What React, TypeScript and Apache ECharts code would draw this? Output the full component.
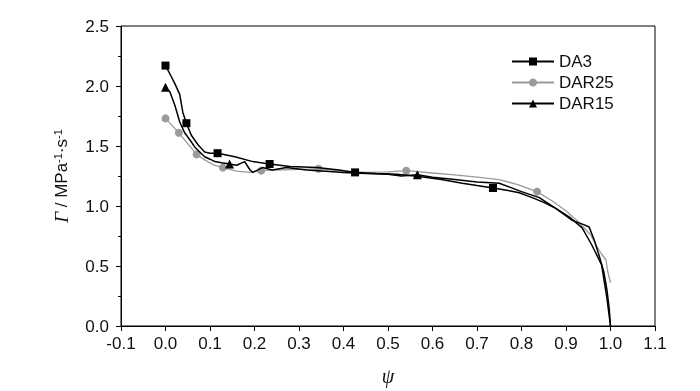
import React, { useEffect, useRef } from "react";
import * as echarts from "echarts";

const xTicks = { min: -0.1, max: 1.1, interval: 0.1 };
const yTicks = { min: 0, max: 2.5, interval: 0.5 };

const seriesNames = ["DA3", "DAR25", "DAR15"];

const da3X = [0.0, 0.01, 0.021, 0.032, 0.039, 0.047, 0.058, 0.073, 0.088, 0.1, 0.117, 0.156, 0.196, 0.234, 0.28, 0.34, 0.39, 0.426, 0.474, 0.52, 0.57, 0.62, 0.667, 0.7, 0.736, 0.77, 0.795, 0.824, 0.85, 0.877, 0.914, 0.94, 0.952, 0.963, 0.975, 0.985, 0.992, 0.997, 1.0];
const da3Y = [2.17, 2.1, 2.02, 1.93, 1.78, 1.69, 1.59, 1.51, 1.45, 1.44, 1.44, 1.41, 1.37, 1.35, 1.33, 1.32, 1.3, 1.28, 1.27, 1.265, 1.245, 1.22, 1.19, 1.17, 1.15, 1.13, 1.11, 1.07, 1.03, 0.98, 0.88, 0.845, 0.825, 0.72, 0.58, 0.45, 0.3, 0.15, 0.0];
const da3Marks = [0, 5, 10, 13, 17, 24];

const dar25X = [0.0, 0.015, 0.03, 0.05, 0.07, 0.09, 0.11, 0.129, 0.16, 0.19, 0.215, 0.25, 0.3, 0.344, 0.4, 0.45, 0.5, 0.541, 0.6, 0.65, 0.7, 0.75, 0.79, 0.835, 0.87, 0.9, 0.93, 0.955, 0.97, 0.98, 0.99, 0.994, 1.0];
const dar25Y = [1.73, 1.67, 1.61, 1.52, 1.43, 1.38, 1.34, 1.32, 1.29, 1.28, 1.295, 1.3, 1.305, 1.31, 1.29, 1.28, 1.285, 1.294, 1.275, 1.26, 1.24, 1.22, 1.18, 1.12, 1.04, 0.96, 0.86, 0.76, 0.66, 0.6, 0.55, 0.45, 0.36];
const dar25Marks = [0, 2, 4, 7, 10, 13, 17, 23];

const dar15X = [0.0, 0.01, 0.021, 0.032, 0.043, 0.055, 0.066, 0.077, 0.088, 0.1, 0.111, 0.126, 0.144, 0.16, 0.178, 0.19, 0.196, 0.218, 0.24, 0.272, 0.317, 0.36, 0.4, 0.45, 0.5, 0.53, 0.566, 0.6, 0.65, 0.7, 0.75, 0.8, 0.84, 0.877, 0.907, 0.936, 0.958, 0.98, 0.992, 1.0];
const dar15Y = [1.99, 1.95, 1.84, 1.7, 1.61, 1.55, 1.49, 1.45, 1.41, 1.39, 1.37, 1.36, 1.35, 1.34, 1.37, 1.3, 1.28, 1.32, 1.3, 1.32, 1.3, 1.29, 1.28, 1.27, 1.265, 1.25, 1.26, 1.24, 1.22, 1.2, 1.19, 1.12, 1.07, 0.98, 0.91, 0.82, 0.675, 0.51, 0.23, 0.0];
const dar15Marks = [0, 12, 26];

function build(xs: number[], ys: number[], marks: number[]) {
  return xs.map((x, i) =>
    marks.includes(i) ? { value: [x, ys[i]] } : { value: [x, ys[i]], symbol: "none" }
  );
}

export default function App() {
  const ref = useRef<HTMLDivElement>(null);
  useEffect(() => {
    if (!ref.current) return;
    const chart = echarts.init(ref.current, undefined, { renderer: "svg" });
    const axisFont = { fontFamily: "Liberation Sans", fontSize: 17, color: "#111" };
    chart.setOption({
      animation: false,
      grid: { left: 121, right: 45, top: 26, bottom: 65, show: true, borderColor: "#000", borderWidth: 1 },
      legend: {
        orient: "vertical",
        left: 506,
        top: 48,
        itemWidth: 42,
        itemHeight: 10,
        itemGap: 4,
        textStyle: { fontFamily: "Liberation Sans", fontSize: 17, color: "#111" },
        data: seriesNames,
      },
      xAxis: {
        type: "value",
        min: xTicks.min,
        max: xTicks.max,
        interval: xTicks.interval,
        name: "ψ",
        nameLocation: "middle",
        nameGap: 40,
        nameTextStyle: { fontFamily: "Liberation Serif", fontStyle: "italic", fontSize: 20, color: "#111" },
        axisLine: { onZero: false, lineStyle: { color: "#000", width: 1 } },
        axisTick: { show: true, length: 5, lineStyle: { color: "#000" } },
        axisLabel: { ...axisFont, margin: 9, formatter: (v: number) => v.toFixed(1) },
        splitLine: { show: false },
      },
      yAxis: {
        type: "value",
        min: yTicks.min,
        max: yTicks.max,
        interval: yTicks.interval,
        name: "{g|Γ} / MPa{s|-1}·s{s|-1}",
        nameLocation: "middle",
        nameGap: 50,
        nameTextStyle: {
          fontFamily: "Liberation Sans",
          fontSize: 17,
          color: "#111",
          rich: {
            g: { fontFamily: "Liberation Serif", fontStyle: "italic", fontSize: 19, color: "#111" },
            s: { fontFamily: "Liberation Sans", fontSize: 11, color: "#111", verticalAlign: "top", padding: [0, 0, 8, 0] },
          },
        },
        axisLine: { onZero: false, lineStyle: { color: "#000", width: 1 } },
        axisTick: { show: true, length: 5, lineStyle: { color: "#000" } },
        minorTick: { show: true, splitNumber: 2, length: 3, lineStyle: { color: "#000" } },
        axisLabel: { ...axisFont, margin: 12, formatter: (v: number) => v.toFixed(1) },
        splitLine: { show: false },
      },
      series: [
        {
          name: seriesNames[0],
          type: "line",
          symbol: "rect",
          symbolSize: 8,
          showSymbol: true,
          lineStyle: { color: "#000", width: 1.5 },
          itemStyle: { color: "#000" },
          data: build(da3X, da3Y, da3Marks),
          z: 2,
        },
        {
          name: seriesNames[1],
          type: "line",
          symbol: "circle",
          symbolSize: 8,
          showSymbol: true,
          lineStyle: { color: "#9a9a9a", width: 1.3 },
          itemStyle: { color: "#9a9a9a" },
          data: build(dar25X, dar25Y, dar25Marks),
          z: 1,
        },
        {
          name: seriesNames[2],
          type: "line",
          symbol: "triangle",
          symbolSize: 9,
          showSymbol: true,
          lineStyle: { color: "#000", width: 1.5 },
          itemStyle: { color: "#000" },
          data: build(dar15X, dar15Y, dar15Marks),
          z: 3,
        },
      ],
    });
    return () => chart.dispose();
  }, []);
  return <div ref={ref} style={{ position: "fixed", left: 0, top: 0, width: 700, height: 391 }} />;
}
